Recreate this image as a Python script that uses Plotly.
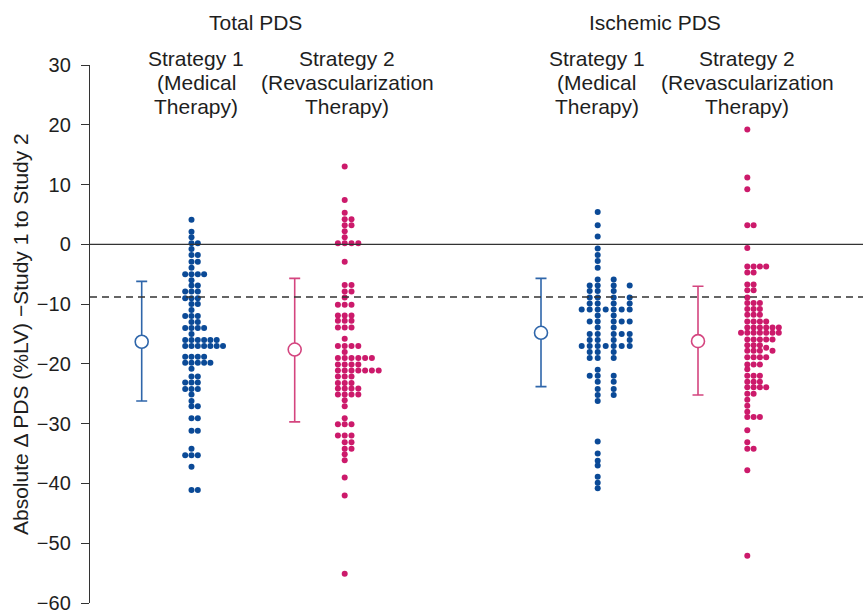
import plotly.graph_objects as go

# ---------------- data ----------------
total_s1 = [
    4.1, 2.1, 1.2, 0.2, 0.2, -0.8, -1.8, -1.8, -2.9, -2.9, -3.9,
    -5.0, -5.0, -5.0, -5.0, -6.0, -6.9, -6.9, -7.9, -7.9, -7.9,
    -9.0, -9.0, -9.0, -10.0, -10.0, -11.0, -12.0, -12.0, -12.0,
    -13.0, -13.0, -14.0, -14.0, -14.0, -14.0, -15.0,
    -16.0, -16.0, -16.0, -16.0, -16.0, -16.0,
    -17.0, -17.0, -17.0, -17.0, -17.0, -17.0, -17.0,
    -18.8, -18.8, -18.8, -18.8,
    -19.8, -19.8, -19.8, -19.8, -19.8,
    -20.8, -22.1, -22.1, -23.1, -23.1, -23.1, -24.2, -24.2, -24.2,
    -25.1, -26.2, -27.1, -27.1, -29.1, -29.1, -31.2, -31.2,
    -34.2, -35.3, -35.3, -35.3, -37.2, -41.1, -41.1,
]
total_s2 = [
    13.0, 7.4, 5.3, 4.2, 4.2, 3.2, 3.2, 2.2, 1.2, 0.2, 0.2, 0.2, 0.2,
    -2.9, -6.8, -6.8, -7.9, -7.9, -8.9, -10.1, -10.1, -10.1,
    -11.9, -11.9, -11.9, -12.8, -12.8, -12.8, -13.9, -13.9, -13.9,
    -15.8, -17.0, -17.0, -17.0, -17.0, -18.0,
    -19.0, -19.0, -19.0, -19.0, -19.0, -19.0,
    -20.1, -20.1, -20.1, -20.1,
    -21.1, -21.1, -21.1, -21.1, -21.1, -21.1, -21.1,
    -22.1, -22.1, -22.1, -23.2, -23.2, -23.2,
    -24.1, -24.1, -24.1, -24.1, -25.1, -25.1, -25.1, -25.1,
    -26.1, -27.1, -29.1, -30.1, -30.1, -30.1, -32.0, -32.0, -32.0,
    -33.1, -33.1, -34.2, -34.2, -35.1, -36.1, -39.0, -42.0, -55.1,
]
isch_s1 = [
    5.4, 3.2, 1.3, -0.7, -1.8, -2.8, -3.9, -5.9, -5.9,
    -6.9, -6.9, -6.9, -6.9, -7.8, -7.8, -7.8,
    -8.9, -8.9, -8.9, -8.9, -9.9, -9.9, -9.9, -9.9,
    -10.9, -10.9, -10.9, -10.9, -10.9, -10.9, -10.9,
    -11.9, -11.9, -12.9, -12.9, -12.9, -12.9, -12.9, -13.9, -13.9,
    -15.0, -15.0, -15.0, -15.0, -15.0, -16.0, -16.0, -16.0, -16.0,
    -17.0, -17.0, -17.0, -17.0, -17.0, -17.0, -17.0,
    -18.0, -18.0, -18.0, -19.0, -19.0, -19.0, -21.0,
    -22.0, -22.0, -22.0, -23.0, -23.0, -24.2, -24.2, -25.2, -25.2,
    -26.2, -33.0, -35.0, -36.2, -37.0, -38.9, -39.9, -40.8,
]
isch_s2 = [
    19.2, 11.2, 9.2, 3.2, 3.2, -0.6, -3.7, -3.7, -3.7, -3.7,
    -4.7, -4.7, -6.7, -6.7, -7.7, -7.7, -8.9,
    -9.8, -9.8, -9.8, -10.8, -10.8, -10.8, -11.8, -11.8, -11.8,
    -12.9, -12.9, -12.9, -12.9,
    -13.9, -13.9, -13.9, -13.9, -13.9, -13.9,
    -14.8, -14.8, -14.8, -14.8, -14.8, -14.8, -14.8,
    -15.9, -15.9, -15.9, -15.9, -15.9, -16.9, -16.9, -16.9, -17.3,
    -17.8, -17.8, -17.8, -17.8, -18.9, -18.9, -18.9, -18.9,
    -20.1, -20.1, -20.1, -20.9, -22.0, -22.0, -22.0, -23.0, -23.0, -23.0,
    -23.9, -23.9, -23.9, -23.9, -25.0, -25.0, -26.0, -27.0, -28.0,
    -28.9, -28.9, -28.9, -31.1, -33.1, -34.2, -34.2, -37.8, -52.1,
]

means = [-16.3, -17.6, -14.8, -16.2]
lower = [-26.2, -29.7, -23.8, -25.2]
upper = [-6.2, -5.7, -5.7, -7.0]

y_ticks = [30, 20, 10, 0, -10, -20, -30, -40, -50, -60]
threshold_value = -8.8

group_titles = ["Total PDS", "Ischemic PDS"]
strategy_lines = [["Strategy 1", "(Medical", "Therapy)"],
                  ["Strategy 2", "(Revascularization", "Therapy)"]]
y_title = "Absolute \u0394 PDS (%LV) \u2212Study 1 to Study 2"

# ---------------- layout / style ----------------
W, H = 863, 614
ML, MR, MT, MB = 90, 0, 65, 9
PLOT_H = H - MT - MB
PX_PER_UNIT = PLOT_H / 90.0

BLUE = "#0b4a97"
BLUE_ERR = "#2f66aa"
PINK = "#cc1a6b"
PINK_ERR = "#d4457f"
TXT = "#1e1e1e"
FONT = "Liberation Sans, Arial, sans-serif"
TEXT_SIZE = 21

# swarm settings: spine x (px), column step (px), column preference order
groups = [
    dict(vals=total_s1, cx=191.5, step=6.3, order=[0, 1, -1, 2, 3, 4, 5, 6, 7], col=BLUE),
    dict(vals=total_s2, cx=344.7, step=6.8, order=[0, 1, -1, 2, 3, 4, 5, 6, 7], col=PINK),
    dict(vals=isch_s1, cx=597.7, step=8.0, order=[0, 2, -1, 4, 3, -2, 1, -3, 5], col=BLUE),
    dict(vals=isch_s2, cx=747.3, step=6.3, order=[0, 1, 2, 3, 4, 5, -1, 6, 7], col=PINK),
]
err_x = [141.7, 294.7, 541.0, 698.0]
err_cols = [BLUE_ERR, PINK_ERR, BLUE_ERR, PINK_ERR]


def swarm(vals, cx, step, order, min_gap=4.5):
    placed = []
    xs, ys = [], []
    for v in sorted(vals, reverse=True):
        ypx = v * PX_PER_UNIT
        chosen = order[-1]
        for k in order:
            if all(not (pk == k and abs(py - ypx) < min_gap) for pk, py in placed):
                chosen = k
                break
        placed.append((chosen, ypx))
        xs.append(cx + chosen * step)
        ys.append(v)
    return xs, ys


fig = go.Figure()

for g in groups:
    xs, ys = swarm(g["vals"], g["cx"], g["step"], g["order"])
    fig.add_trace(go.Scatter(
        x=xs, y=ys, mode="markers",
        marker=dict(size=6, color=g["col"], line=dict(width=0)),
        showlegend=False, hoverinfo="y"))

for i in range(4):
    fig.add_trace(go.Scatter(
        x=[err_x[i]], y=[means[i]], mode="markers",
        marker=dict(size=13, color="white", line=dict(color=err_cols[i], width=1.6)),
        error_y=dict(type="data", symmetric=False,
                     array=[upper[i] - means[i]], arrayminus=[means[i] - lower[i]],
                     color=err_cols[i], thickness=1.6, width=5.5),
        showlegend=False, hoverinfo="y"))

fig.add_shape(type="line", xref="paper", x0=0, x1=1, yref="y", y0=0, y1=0,
              line=dict(color="#333333", width=1.4))
fig.add_shape(type="line", xref="paper", x0=0, x1=1, yref="y",
              y0=threshold_value, y1=threshold_value,
              line=dict(color="#333333", width=1.4, dash="7px,5px"))


def py(ypix):
    return (H - MB - ypix) / PLOT_H


ann = []
for title, cxp in zip(group_titles, [255, 655]):
    ann.append(dict(x=cxp, y=py(22), text=title))
for cxp, lines in zip([196, 347, 596.5, 747], strategy_lines + strategy_lines):
    for text, ypix in zip(lines, [58, 82.5, 107]):
        ann.append(dict(x=cxp, y=py(ypix), text=text))
annotations = []
for a in ann:
    annotations.append(dict(x=a["x"], y=a["y"], xref="x", yref="paper", text=a["text"],
                            showarrow=False, xanchor="center", yanchor="middle",
                            font=dict(family=FONT, size=TEXT_SIZE, color=TXT)))
annotations.append(dict(x=(20 - ML) / (W - ML - MR), y=py(335), xref="paper", yref="paper",
                        text=y_title, textangle=-90, showarrow=False,
                        xanchor="center", yanchor="middle",
                        font=dict(family=FONT, size=TEXT_SIZE, color=TXT)))

fig.update_layout(
    width=W, height=H,
    margin=dict(l=ML, r=MR, t=MT, b=MB),
    paper_bgcolor="white", plot_bgcolor="white",
    font=dict(family=FONT, color=TXT),
    xaxis=dict(range=[ML, W - MR], visible=False, fixedrange=True),
    yaxis=dict(range=[-60, 30], tickvals=y_ticks, showgrid=False, zeroline=False,
               showline=True, linecolor="#333333", linewidth=1.4,
               ticks="outside", ticklen=8, tickwidth=1.4, tickcolor="#333333",
               tickfont=dict(family=FONT, size=20, color=TXT),
               ticklabelstandoff=6, ticklabeloverflow="allow", fixedrange=True),
    annotations=annotations,
    showlegend=False,
)

fig.write_html("out.html")
